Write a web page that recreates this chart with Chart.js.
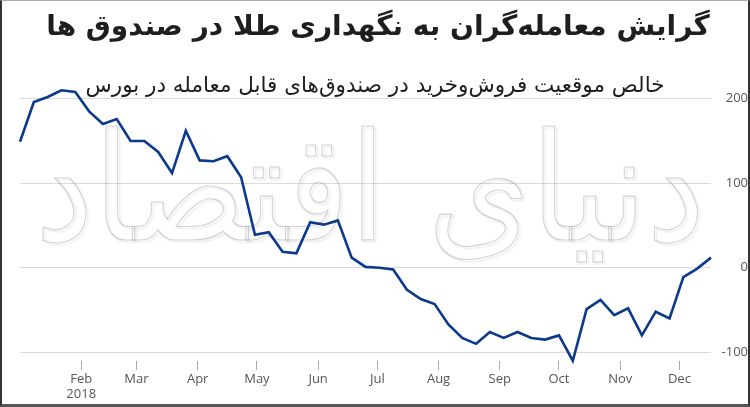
<!DOCTYPE html>
<html>
<head>
<meta charset="utf-8">
<script src="https://cdn.jsdelivr.net/npm/chart.js@4"></script>
<style>
  html, body { margin: 0; padding: 0; background: #fff; }
  #wrap { position: relative; width: 750px; height: 407px; overflow: hidden; box-sizing: border-box; }
  #frame { position: absolute; left: 0; top: 0; width: 750px; height: 407px; box-sizing: border-box;
           border-left: 2px solid #333; border-right: 2px solid #333; border-top: 1px solid #aaa; border-bottom: 3px solid #555; pointer-events: none; }
  #title { position: absolute; left: 0; width: 756px; top: 9px; text-align: center; direction: rtl; white-space: nowrap;
           font-family: "DejaVu Sans", sans-serif; font-weight: bold; font-size: 28px; color: #1e1e1e; }
  #subtitle { position: absolute; left: 0; width: 750px; top: 72px; text-align: center; direction: rtl; white-space: nowrap;
           font-family: "DejaVu Sans", sans-serif; font-size: 21.5px; color: #1e1e1e; }
  canvas { position: absolute; left: 0; top: 0; }
</style>
</head>
<body>
<div id="wrap">
  <canvas id="c" width="750" height="407"></canvas>
  <div id="title">گرایش معامله‌گران به نگهداری طلا در صندوق ها</div>
  <div id="subtitle">خالص موقعیت فروش‌وخرید در صندوق‌های قابل معامله در بورس</div>
  <div id="frame"></div>
</div>
<script>
const weeks = [
  "2018-01-01","2018-01-08","2018-01-15","2018-01-22","2018-01-29","2018-02-05","2018-02-12","2018-02-19","2018-02-26",
  "2018-03-05","2018-03-12","2018-03-19","2018-03-26","2018-04-02","2018-04-09","2018-04-16","2018-04-23","2018-04-30",
  "2018-05-07","2018-05-14","2018-05-21","2018-05-28","2018-06-04","2018-06-11","2018-06-18","2018-06-25","2018-07-02",
  "2018-07-09","2018-07-16","2018-07-23","2018-07-30","2018-08-06","2018-08-13","2018-08-20","2018-08-27","2018-09-03",
  "2018-09-10","2018-09-17","2018-09-24","2018-10-01","2018-10-08","2018-10-15","2018-10-22","2018-10-29","2018-11-05",
  "2018-11-12","2018-11-19","2018-11-26","2018-12-03","2018-12-10","2018-12-17"
];
const netPosition = [
  149,196,202,210,208,185,170,176,150,150,
  137,112,162,127,126,132,107,39,42,19,
  17,54,51,56,12,1,0,-2,-26,-37,
  -43,-67,-83,-90,-76,-83,-76,-83,-85,-80,
  -110,-49,-38,-56,-48,-80,-52,-60,-11,-1,12
];
const monthStarts = ["2018-02-01","2018-03-01","2018-04-01","2018-05-01","2018-06-01","2018-07-01","2018-08-01","2018-09-01","2018-10-01","2018-11-01","2018-12-01"];
const monthLabels = [["Feb","2018"],"Mar","Apr","May","Jun","Jul","Aug","Sep","Oct","Nov","Dec"];
const yTicks = [-100, 0, 100, 200];

const DAY = 86400000;
const origin = Date.UTC(2018, 0, 1);
const dayOf = s => (Date.parse(s + "T00:00:00Z") - origin) / DAY;
const points = weeks.map((w, i) => ({ x: dayOf(w), y: netPosition[i] }));
const monthDays = monthStarts.map(dayOf);

const watermark = {
  id: 'watermark',
  beforeDatasetsDraw(chart) {
    const ctx = chart.ctx;
    ctx.save();
    ctx.font = '150px "DejaVu Sans"';
    ctx.direction = 'rtl';
    ctx.textAlign = 'center';
    ctx.textBaseline = 'alphabetic';
    ctx.lineWidth = 1.2;
    ctx.shadowColor = 'rgba(0,0,0,0.25)';
    ctx.shadowOffsetX = 2; ctx.shadowOffsetY = 2; ctx.shadowBlur = 2;
    ctx.strokeStyle = 'rgba(160,160,160,0.45)';
    ctx.strokeText('دنیای اقتصاد', 370, 240, 670);
    ctx.restore();
  }
};

new Chart(document.getElementById('c'), {
  type: 'line',
  data: {
    datasets: [{
      data: points,
      borderColor: '#0b3a8c',
      borderWidth: 2.6,
      pointRadius: 0,
      tension: 0,
      fill: false,
      clip: false
    }]
  },
  plugins: [watermark],
  options: {
    responsive: false,
    animation: false,
    events: [],
    layout: { padding: { left: 20, top: 86, right: 2, bottom: 0 } },
    plugins: { legend: { display: false }, tooltip: { enabled: false }, title: { display: false } },
    scales: {
      x: {
        type: 'linear',
        min: 0,
        max: 350,
        afterBuildTicks: s => { s.ticks = monthDays.map(v => ({ value: v })); },
        afterFit: s => { s.height = 46; },
        ticks: {
          autoSkip: false,
          maxRotation: 0,
          padding: 2,
          color: '#555',
          font: { family: '"Open Sans"', size: 13, lineHeight: 1.15 },
          callback: (v, i) => monthLabels[i]
        },
        grid: { display: true, drawOnChartArea: false, drawTicks: true, tickLength: 9, color: '#aaa', lineWidth: 1 },
        border: { display: false }
      },
      y: {
        position: 'right',
        min: -110.3,
        max: 215,
        afterBuildTicks: s => { s.ticks = yTicks.map(v => ({ value: v })); },
        afterFit: s => { s.width = 37; },
        ticks: {
          padding: 5,
          crossAlign: 'far',
          color: '#555',
          font: { family: '"Open Sans"', size: 13 }
        },
        grid: { color: '#e0dbd2', lineWidth: 1, drawTicks: false },
        border: { display: false }
      }
    }
  }
});
</script>
</body>
</html>
